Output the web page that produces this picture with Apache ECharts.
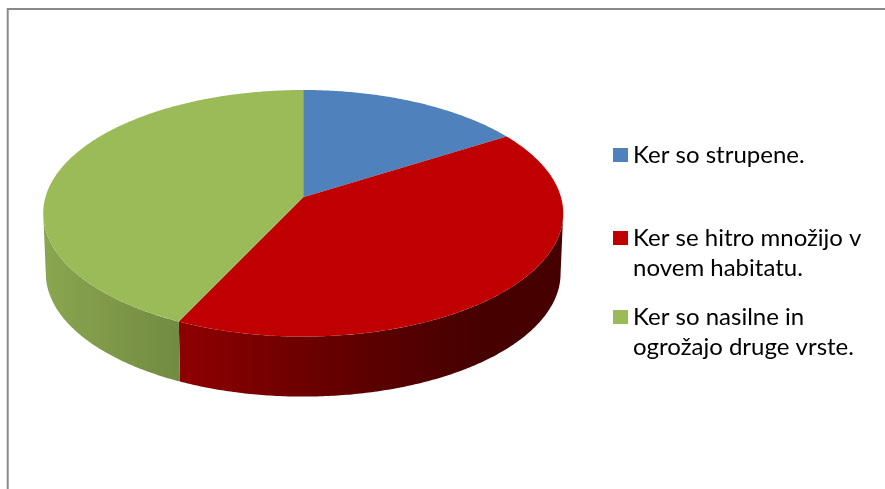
<!DOCTYPE html>
<html><head><meta charset="utf-8">
<script src="https://cdn.jsdelivr.net/npm/echarts@6/dist/echarts.min.js"></script>
<style>html,body{margin:0;padding:0;background:#fff}#c{width:885px;height:489px}</style>
</head><body><div id="c"></div>
<script>
// ---- data ----
const categories = ['Ker so strupene.', 'Ker se hitro množijo v novem habitatu.', 'Ker so nasilne in ogrožajo druge vrste.'];
const legendLabels = ['Ker so strupene.', 'Ker se hitro množijo v\nnovem habitatu.', 'Ker so nasilne in\nogrožajo druge vrste.'];
const values = [16, 41, 43];
const colors = ['#4F81BD', '#C00000', '#9BBB59'];

// ---- 3D pie geometry (layout) ----
const total = values.reduce((a, b) => a + b, 0);
const PIE = {cx: 303.2, cy: 213.3, rx: 260, ry: 123.3, persp: -0.13, depth: 60, bottomScale: 0.99};
const K = Math.sqrt(1 - PIE.persp * PIE.persp);
function proj(theta, r, level) {
  const u = r * Math.sin(theta), v = -r * Math.cos(theta);
  const d = 1 + PIE.persp * v;
  const sx = level ? PIE.bottomScale : 1;
  return [PIE.cx + PIE.rx * sx * u * K / d, PIE.cy + level * PIE.depth + PIE.ry * (v + PIE.persp) / d];
}
const sil0 = Math.acos(PIE.persp), sil1 = 2 * Math.PI - Math.acos(PIE.persp);
const shadeStops = [[-1, 0.89], [-0.43, 0.725], [0.28, 0.47], [0.7, 0.365], [1, 0.37]];
function shade(hex, f) {
  const n = parseInt(hex.slice(1), 16);
  const r = Math.round(((n >> 16) & 255) * f), g = Math.round(((n >> 8) & 255) * f), b = Math.round((n & 255) * f);
  return 'rgb(' + r + ',' + g + ',' + b + ')';
}
function sideFill(hex) {
  return new echarts.graphic.LinearGradient(PIE.cx - PIE.rx, 0, PIE.cx + PIE.rx, 0,
    shadeStops.map(s => ({offset: (s[0] + 1) / 2, color: shade(hex, s[1])})), true);
}
function makeRender(idx) {
  return function (params, api) {
    const val = api.value(0);
    let start = 0;
    for (let i = 0; i < idx; i++) start += values[i];
    const t0 = start / total * 2 * Math.PI, t1 = (start + val) / total * 2 * Math.PI;
    const color = colors[idx];
    const children = [];
    const s0 = Math.max(t0, sil0), s1 = Math.min(t1, sil1);
    if (s1 > s0) {
      const pts = [];
      const n = Math.max(2, Math.ceil((s1 - s0) / 0.01));
      for (let i = 0; i <= n; i++) pts.push(proj(s0 + (s1 - s0) * i / n, 1, 0));
      for (let i = n; i >= 0; i--) pts.push(proj(s0 + (s1 - s0) * i / n, 1, 1));
      children.push({type: 'polygon', z2: 1, shape: {points: pts}, style: {fill: sideFill(color)}});
    }
    const tp = [proj(0, 0, 0)];
    const m = Math.max(2, Math.ceil((t1 - t0) / 0.01));
    for (let i = 0; i <= m; i++) tp.push(proj(t0 + (t1 - t0) * i / m, 1, 0));
    children.push({type: 'polygon', z2: 10, shape: {points: tp}, style: {fill: color}});
    return {type: 'group', children: children};
  };
}

const legendCenters = [155, 238, 317];
const LH = 30;
const chart = echarts.init(document.getElementById('c'), null, {renderer: 'canvas'});
chart.setOption({
  animation: false,
  graphic: [{type: 'rect', shape: {x: 7.7, y: 9, width: 900, height: 500},
    style: {fill: 'none', stroke: '#8a8a8a', lineWidth: 2}, silent: true}],
  legend: categories.map((name, i) => {
    const multi = legendLabels[i].indexOf('\n') >= 0;
    return {
      data: [{name: name, icon: 'rect'}],
      left: 613, top: legendCenters[i] - (multi ? 1.5 * LH : 0.5 * LH), orient: 'vertical',
      itemWidth: 15, itemHeight: 14, itemGap: 0, padding: 0, selectedMode: false,
      formatter: () => (multi ? ' \n' : '') + legendLabels[i],
      textStyle: {fontFamily: 'Lato', fontSize: 24, color: '#000', lineHeight: LH}
    };
  }),
  series: categories.map((name, i) => ({
    type: 'custom', name: name, coordinateSystem: 'none', silent: true,
    renderItem: makeRender(i), data: [[values[i]]], itemStyle: {color: colors[i]}
  }))
});
</script></body></html>
